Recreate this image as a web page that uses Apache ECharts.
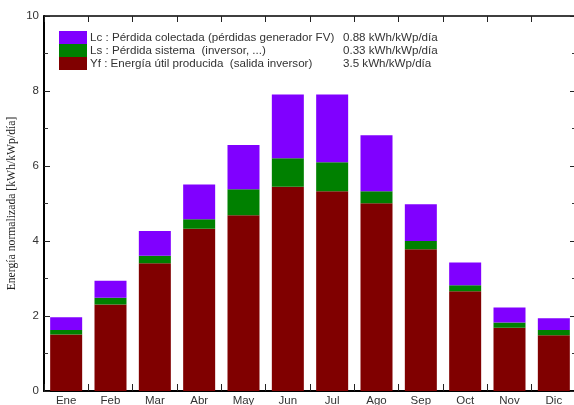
<!DOCTYPE html>
<html>
<head>
<meta charset="utf-8">
<script src="https://cdn.jsdelivr.net/npm/echarts@6/dist/echarts.min.js"></script>
<style>html,body{margin:0;padding:0;background:#fff;}#c{width:574px;height:405px;}</style>
</head>
<body>
<div id="c"></div>
<script>
const categories = ['Ene','Feb','Mar','Abr','May','Jun','Jul','Ago','Sep','Oct','Nov','Dic'];
const yf = [1.51, 2.31, 3.41, 4.33, 4.69, 5.45, 5.33, 5.01, 3.78, 2.66, 1.69, 1.49];
const ls = [0.12, 0.18, 0.20, 0.25, 0.69, 0.76, 0.77, 0.32, 0.22, 0.16, 0.14, 0.14];
const lc = [0.34, 0.45, 0.66, 0.93, 1.18, 1.70, 1.81, 1.49, 0.98, 0.61, 0.40, 0.31];
const legendNames = ['Lc : Pérdida colectada (pérdidas generador FV)', 'Ls : Pérdida sistema  (inversor, ...)', 'Yf : Energía útil producida  (salida inversor)'];
const legendValues = ['0.88 kWh/kWp/día', '0.33 kWh/kWp/día', '3.5 kWh/kWp/día'];
const yTicks = [0, 2, 4, 6, 8, 10];

const chart = echarts.init(document.getElementById('c'), null, {renderer: 'canvas'});
const font = 'Liberation Sans, Arial, sans-serif';
function tickIn(len){ return {show: true, inside: true, length: len, lineStyle: {color: '#222', width: 1}}; }
chart.setOption({
  animation: false,
  backgroundColor: '#fff',
  grid: {left: 44, top: 16, width: 532, height: 375, containLabel: false, outerBoundsMode: 'none'},
  legend: {
    orient: 'vertical', left: 54, top: 26, itemWidth: 28, itemHeight: 13, itemGap: 0,
    icon: 'rect', selectedMode: false,
    data: legendNames,
    formatter: function(name){ const i = legendNames.indexOf(name); return '{n|' + name + '}{v|' + legendValues[i] + '}'; },
    textStyle: {fontFamily: font, fontSize: 11.6, color: '#333', padding: [0,0,0,-2],
      rich: {n: {width: 253, fontFamily: font, fontSize: 11.6, color: '#333'}, v: {fontFamily: font, fontSize: 11.6, color: '#333'}}}
  },
  xAxis: [{
    type: 'category', data: categories, position: 'bottom', boundaryGap: true,
    axisLine: {show: true, onZero: false, lineStyle: {color: '#000', width: 2}}, axisTick: tickIn(7),
    axisLabel: {fontFamily: font, fontSize: 11.5, color: '#333', margin: 4}
  }, {
    type: 'category', data: categories, position: 'top', boundaryGap: true,
    axisLine: {show: true, onZero: false, lineStyle: {color: '#000', width: 1.5}}, axisTick: tickIn(6), axisLabel: {show: false}
  }],
  yAxis: [{
    type: 'value', min: 0, max: 10, interval: 2, position: 'left',
    name: 'Energía normalizada [kWh/kWp/día]', nameLocation: 'middle', nameGap: 26, nameMoveOverlap: false,
    nameTextStyle: {fontFamily: 'Liberation Serif, Times New Roman, serif', fontSize: 11.7, color: '#222'},
    axisLine: {show: true, onZero: false, lineStyle: {color: '#000', width: 2}}, axisTick: tickIn(6),
    minorTick: {show: true, splitNumber: 2, length: 4, lineStyle: {color: '#333'}},
    splitLine: {show: false},
    axisLabel: {fontFamily: font, fontSize: 11.5, color: '#333', margin: 5,
      formatter: function(v){ return yTicks.indexOf(v) >= 0 ? String(v) : ''; }}
  }, {
    type: 'value', min: 0, max: 10, interval: 2, position: 'right',
    axisLine: {show: true, onZero: false, lineStyle: {color: '#000', width: 2}}, axisTick: tickIn(6),
    minorTick: {show: true, splitNumber: 2, length: 4, lineStyle: {color: '#333'}},
    splitLine: {show: false}, axisLabel: {show: false}
  }],
  series: [
    {name: legendNames[2], type: 'bar', stack: 's', data: yf, barWidth: 32, itemStyle: {color: '#800000'}},
    {name: legendNames[1], type: 'bar', stack: 's', data: ls, barWidth: 32, itemStyle: {color: '#008000'}},
    {name: legendNames[0], type: 'bar', stack: 's', data: lc, barWidth: 32, itemStyle: {color: '#8000ff'}}
  ]
});
</script>
</body>
</html>
